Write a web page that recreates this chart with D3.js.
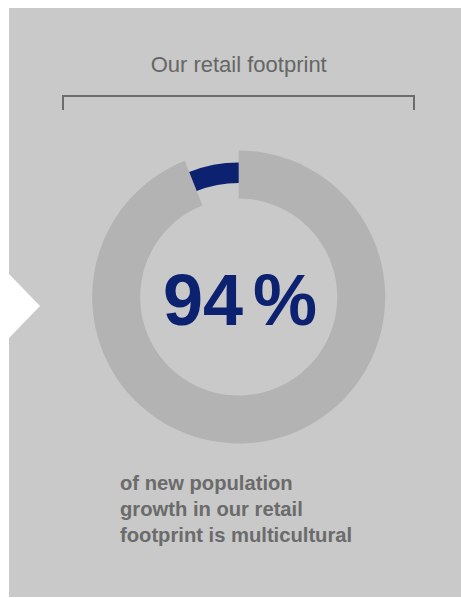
<!DOCTYPE html>
<html>
<head>
<meta charset="utf-8">
<script src="https://cdn.jsdelivr.net/npm/d3@7"></script>
<style>
  html, body { margin: 0; padding: 0; background: #fff; }
  svg { display: block; }
  text { font-family: "Liberation Sans", Arial, Helvetica, sans-serif; }
</style>
</head>
<body>
<div id="chart"></div>
<script>
// donut: share of new population growth
const SEGMENTS = ["Multicultural", "Other"];
const VALUES = [94, 6];
const HEADLINE = "94";
const TITLE = "Our retail footprint";
const CAPTION = ["of new population", "growth in our retail", "footprint is multicultural"];

const W = 461, H = 598;
const cx = 238.7, cy = 297;

const svg = d3.select("#chart").append("svg")
    .attr("width", W).attr("height", H);

// grey card + white pointer on the left
svg.append("rect").attr("x", 9).attr("y", 8).attr("width", W - 9).attr("height", 589)
    .attr("fill", "#c8c9c8");
svg.append("path").attr("d", "M0,274 L9,274 L40,306 L9,338 L0,338 Z").attr("fill", "#fff");

// title + bracket
svg.append("text").attr("x", cx).attr("y", 72).attr("text-anchor", "middle")
    .attr("font-size", 22).attr("fill", "#666").text(TITLE);
svg.append("path").attr("d", "M63,110 V96 H414 V110")
    .attr("fill", "none").attr("stroke", "#6c6c6c").attr("stroke-width", 2);

// donut
const pie = d3.pie().sort(null).value(d => d);
const arcs = pie(VALUES);
const color = d3.scaleOrdinal().domain(SEGMENTS).range(["#b3b3b4", "#0c2271"]);
const radii = { Multicultural: [98.5, 146.5], Other: [114, 134.5] };

const g = svg.append("g").attr("transform", `translate(${cx},${cy})`);
g.selectAll("path").data(arcs).join("path")
    .attr("d", (d, i) => d3.arc().innerRadius(radii[SEGMENTS[i]][0]).outerRadius(radii[SEGMENTS[i]][1])(d))
    .attr("fill", (d, i) => color(SEGMENTS[i]));

// big number
const big = svg.append("text").attr("x", 240).attr("y", 325).attr("text-anchor", "middle")
    .attr("font-size", 72).attr("font-weight", "bold").attr("fill", "#0c2271");
big.append("tspan").text(HEADLINE);
big.append("tspan").attr("dx", 10).text("%");

// caption
svg.append("text").attr("x", 120).attr("y", 490)
    .attr("font-size", 20.2).attr("font-weight", "bold").attr("fill", "#6b6b6b")
  .selectAll("tspan").data(CAPTION).join("tspan")
    .attr("x", 120).attr("dy", (d, i) => i ? 26 : 0).text(d => d);
</script>
</body>
</html>
